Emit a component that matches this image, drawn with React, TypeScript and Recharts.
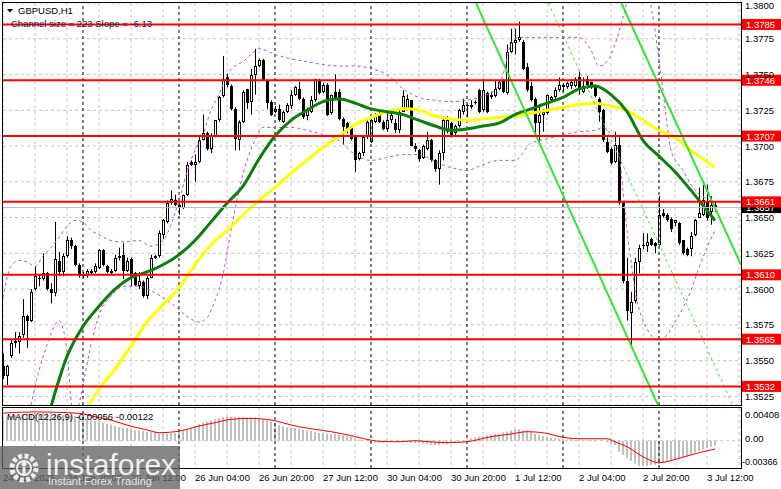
import React from 'react';
import { ComposedChart, Bar, Line, XAxis, YAxis, ReferenceLine, CartesianGrid } from 'recharts';

const FONT = '"Liberation Sans", Arial, sans-serif';

// one bar per hour, bar 0 = 24 Jun 04:00
const opens = [
  1.3546, 1.3539, 1.3553, 1.3562, 1.3563, 1.3568, 1.3581, 1.3578, 1.3600, 1.3608,
  1.3607, 1.3611, 1.3600, 1.3597, 1.3620, 1.3612, 1.3623, 1.3634, 1.3630, 1.3617,
  1.3610, 1.3609, 1.3611, 1.3612, 1.3615, 1.3627, 1.3616, 1.3613, 1.3613, 1.3622,
  1.3624, 1.3613, 1.3621, 1.3611, 1.3602, 1.3605, 1.3595, 1.3608, 1.3622, 1.3623,
  1.3638, 1.3647, 1.3660, 1.3662, 1.3659, 1.3657, 1.3666, 1.3689, 1.3687, 1.3689,
  1.3704, 1.3709, 1.3698, 1.3707, 1.3718, 1.3735, 1.3748, 1.3742, 1.3726, 1.3704,
  1.3717, 1.3740, 1.3731, 1.3750, 1.3756, 1.3760, 1.3746, 1.3731, 1.3724, 1.3726,
  1.3717, 1.3724, 1.3728, 1.3736, 1.3740, 1.3733, 1.3721, 1.3724, 1.3732, 1.3746,
  1.3738, 1.3743, 1.3723, 1.3738, 1.3738, 1.3719, 1.3716, 1.3713, 1.3706, 1.3691,
  1.3695, 1.3706, 1.3703, 1.3717, 1.3723, 1.3717, 1.3712, 1.3718, 1.3716, 1.3711,
  1.3724, 1.3726, 1.3732, 1.3700, 1.3697, 1.3692, 1.3698, 1.3704, 1.3690, 1.3684,
  1.3695, 1.3711, 1.3716, 1.3709, 1.3714, 1.3724, 1.3728, 1.3727, 1.3730, 1.3739,
  1.3725, 1.3737, 1.3734, 1.3735, 1.3740, 1.3746, 1.3737, 1.3766, 1.3772, 1.3774,
  1.3773, 1.3755, 1.3742, 1.3733, 1.3716, 1.3722, 1.3723, 1.3732, 1.3734, 1.3739,
  1.3741, 1.3741, 1.3742, 1.3742, 1.3748, 1.3738, 1.3747, 1.3745, 1.3743, 1.3733,
  1.3725, 1.3703, 1.3698, 1.3689, 1.3701, 1.3660, 1.3606, 1.3583, 1.3592, 1.3619,
  1.3630, 1.3630, 1.3635, 1.3632, 1.3631, 1.3653, 1.3652, 1.3649, 1.3646, 1.3646,
  1.3634, 1.3628, 1.3628, 1.3638, 1.3650, 1.3652, 1.3661, 1.3654, 1.3659,
];
const highs = [
  1.3555, 1.3547, 1.3565, 1.3570, 1.3570, 1.3593, 1.3582, 1.3600, 1.3616, 1.3610,
  1.3625, 1.3612, 1.3604, 1.3647, 1.3626, 1.3625, 1.3637, 1.3636, 1.3631, 1.3618,
  1.3612, 1.3614, 1.3614, 1.3618, 1.3628, 1.3628, 1.3617, 1.3614, 1.3624, 1.3629,
  1.3632, 1.3622, 1.3622, 1.3612, 1.3612, 1.3606, 1.3609, 1.3624, 1.3624, 1.3641,
  1.3649, 1.3662, 1.3669, 1.3666, 1.3660, 1.3666, 1.3689, 1.3690, 1.3694, 1.3707,
  1.3722, 1.3710, 1.3709, 1.3718, 1.3735, 1.3763, 1.3751, 1.3743, 1.3727, 1.3718,
  1.3739, 1.3740, 1.3754, 1.3768, 1.3761, 1.3761, 1.3746, 1.3732, 1.3728, 1.3729,
  1.3725, 1.3730, 1.3739, 1.3742, 1.3745, 1.3734, 1.3727, 1.3735, 1.3747, 1.3747,
  1.3744, 1.3744, 1.3736, 1.3750, 1.3740, 1.3720, 1.3717, 1.3714, 1.3708, 1.3696,
  1.3707, 1.3718, 1.3719, 1.3723, 1.3724, 1.3718, 1.3724, 1.3723, 1.3719, 1.3725,
  1.3739, 1.3736, 1.3732, 1.3702, 1.3698, 1.3701, 1.3710, 1.3705, 1.3691, 1.3697,
  1.3720, 1.3721, 1.3717, 1.3715, 1.3726, 1.3733, 1.3729, 1.3732, 1.3732, 1.3740,
  1.3747, 1.3738, 1.3738, 1.3746, 1.3746, 1.3747, 1.3771, 1.3782, 1.3782, 1.3787,
  1.3774, 1.3758, 1.3745, 1.3734, 1.3729, 1.3726, 1.3736, 1.3735, 1.3741, 1.3748,
  1.3744, 1.3745, 1.3747, 1.3748, 1.3752, 1.3748, 1.3749, 1.3745, 1.3743, 1.3734,
  1.3726, 1.3706, 1.3699, 1.3710, 1.3707, 1.3661, 1.3622, 1.3598, 1.3622, 1.3631,
  1.3639, 1.3639, 1.3636, 1.3633, 1.3665, 1.3656, 1.3653, 1.3650, 1.3648, 1.3647,
  1.3634, 1.3629, 1.3640, 1.3649, 1.3671, 1.3673, 1.3673, 1.3665, 1.3661,
];
const lows = [
  1.3537, 1.3533, 1.3552, 1.3559, 1.3555, 1.3566, 1.3559, 1.3577, 1.3599, 1.3602,
  1.3606, 1.3599, 1.3590, 1.3595, 1.3609, 1.3609, 1.3622, 1.3628, 1.3616, 1.3608,
  1.3608, 1.3608, 1.3610, 1.3611, 1.3614, 1.3616, 1.3611, 1.3610, 1.3612, 1.3620,
  1.3607, 1.3612, 1.3602, 1.3602, 1.3600, 1.3594, 1.3593, 1.3608, 1.3621, 1.3622,
  1.3635, 1.3646, 1.3659, 1.3658, 1.3652, 1.3656, 1.3665, 1.3686, 1.3675, 1.3688,
  1.3704, 1.3697, 1.3695, 1.3706, 1.3717, 1.3734, 1.3741, 1.3725, 1.3697, 1.3697,
  1.3716, 1.3726, 1.3722, 1.3736, 1.3755, 1.3746, 1.3726, 1.3721, 1.3723, 1.3717,
  1.3716, 1.3723, 1.3726, 1.3735, 1.3732, 1.3719, 1.3718, 1.3723, 1.3731, 1.3736,
  1.3737, 1.3721, 1.3722, 1.3732, 1.3718, 1.3701, 1.3709, 1.3704, 1.3682, 1.3690,
  1.3693, 1.3705, 1.3702, 1.3716, 1.3716, 1.3711, 1.3710, 1.3716, 1.3709, 1.3709,
  1.3724, 1.3725, 1.3700, 1.3696, 1.3689, 1.3691, 1.3697, 1.3689, 1.3682, 1.3673,
  1.3690, 1.3709, 1.3706, 1.3707, 1.3713, 1.3722, 1.3720, 1.3726, 1.3729, 1.3723,
  1.3724, 1.3723, 1.3733, 1.3734, 1.3739, 1.3737, 1.3736, 1.3765, 1.3764, 1.3773,
  1.3753, 1.3738, 1.3731, 1.3707, 1.3702, 1.3710, 1.3722, 1.3731, 1.3733, 1.3738,
  1.3738, 1.3740, 1.3740, 1.3741, 1.3736, 1.3737, 1.3740, 1.3740, 1.3734, 1.3717,
  1.3703, 1.3695, 1.3687, 1.3688, 1.3659, 1.3604, 1.3578, 1.3559, 1.3590, 1.3611,
  1.3628, 1.3626, 1.3630, 1.3625, 1.3630, 1.3650, 1.3647, 1.3640, 1.3644, 1.3631,
  1.3624, 1.3623, 1.3623, 1.3637, 1.3650, 1.3651, 1.3648, 1.3645, 1.3654,
];
const closes = [
  1.3539, 1.3546, 1.3562, 1.3564, 1.3567, 1.3581, 1.3578, 1.3598, 1.3609, 1.3607,
  1.3611, 1.3600, 1.3597, 1.3621, 1.3612, 1.3623, 1.3634, 1.3630, 1.3617, 1.3609,
  1.3609, 1.3613, 1.3613, 1.3616, 1.3627, 1.3617, 1.3612, 1.3611, 1.3622, 1.3623,
  1.3613, 1.3620, 1.3609, 1.3603, 1.3606, 1.3595, 1.3608, 1.3622, 1.3623, 1.3639,
  1.3648, 1.3660, 1.3663, 1.3659, 1.3657, 1.3666, 1.3687, 1.3687, 1.3689, 1.3704,
  1.3709, 1.3698, 1.3708, 1.3718, 1.3734, 1.3747, 1.3743, 1.3726, 1.3705, 1.3717,
  1.3738, 1.3730, 1.3750, 1.3756, 1.3760, 1.3746, 1.3730, 1.3722, 1.3726, 1.3718,
  1.3724, 1.3729, 1.3736, 1.3741, 1.3733, 1.3720, 1.3725, 1.3732, 1.3747, 1.3737,
  1.3743, 1.3722, 1.3736, 1.3733, 1.3719, 1.3713, 1.3712, 1.3705, 1.3690, 1.3695,
  1.3706, 1.3717, 1.3718, 1.3722, 1.3717, 1.3712, 1.3718, 1.3722, 1.3711, 1.3724,
  1.3735, 1.3733, 1.3700, 1.3698, 1.3691, 1.3700, 1.3704, 1.3690, 1.3684, 1.3695,
  1.3718, 1.3718, 1.3708, 1.3714, 1.3725, 1.3729, 1.3729, 1.3729, 1.3731, 1.3724,
  1.3739, 1.3724, 1.3736, 1.3740, 1.3745, 1.3738, 1.3766, 1.3773, 1.3774, 1.3776,
  1.3754, 1.3739, 1.3732, 1.3716, 1.3722, 1.3724, 1.3736, 1.3734, 1.3739, 1.3743,
  1.3743, 1.3744, 1.3745, 1.3747, 1.3739, 1.3742, 1.3741, 1.3741, 1.3735, 1.3724,
  1.3704, 1.3696, 1.3688, 1.3701, 1.3660, 1.3606, 1.3585, 1.3591, 1.3619, 1.3629,
  1.3631, 1.3633, 1.3631, 1.3630, 1.3652, 1.3651, 1.3648, 1.3642, 1.3648, 1.3632,
  1.3625, 1.3624, 1.3637, 1.3648, 1.3653, 1.3662, 1.3650, 1.3659, 1.3657,
];

// indicator readings [bar, value]
const maGreen = [
  [12, 1.3518], [16, 1.3553], [20, 1.3574], [24, 1.3588], [28, 1.3600], [32, 1.3608],
  [36, 1.3612], [40, 1.3617], [44, 1.3624], [48, 1.3634], [52, 1.3647], [56, 1.3660],
  [60, 1.3672], [64, 1.3691], [68, 1.3707], [72, 1.3718], [76, 1.3725], [80, 1.3731],
  [84, 1.3733], [88, 1.3730], [92, 1.3726], [96, 1.3724], [100, 1.3722], [104, 1.3718],
  [108, 1.3714], [112, 1.3711], [116, 1.3712], [120, 1.3714], [124, 1.3716], [128, 1.3722],
  [132, 1.3726], [136, 1.3730], [140, 1.3734], [144, 1.3740], [148, 1.3742], [152, 1.3736],
  [156, 1.3724], [160, 1.3704], [164, 1.3693], [168, 1.3682], [172, 1.3669], [176, 1.3655],
  [178, 1.3648],
];
const maYellow = [
  [20, 1.3512], [24, 1.3530], [28, 1.3544], [32, 1.3560], [36, 1.3577], [40, 1.3589],
  [44, 1.3601], [48, 1.3617], [52, 1.3631], [56, 1.3641], [60, 1.3652], [64, 1.3662],
  [68, 1.3671], [72, 1.3681], [76, 1.3690], [80, 1.3699], [84, 1.3707], [88, 1.3715],
  [92, 1.3720], [96, 1.3724], [100, 1.3726], [104, 1.3725], [108, 1.3721], [112, 1.3719],
  [116, 1.3718], [120, 1.3719], [124, 1.3720], [128, 1.3721], [132, 1.3723], [136, 1.3725],
  [140, 1.3727], [144, 1.3729], [148, 1.3730], [152, 1.3728], [156, 1.3725], [160, 1.3718],
  [164, 1.3711], [168, 1.3706], [172, 1.3697], [176, 1.3689], [178, 1.3685],
];
const bandUpper = [
  [0, 1.3594], [2, 1.3616], [4, 1.3620], [6, 1.3619], [8, 1.3616], [10, 1.3623], [12, 1.3629],
  [14, 1.3636], [16, 1.3644], [18, 1.3648], [20, 1.3647], [22, 1.3641], [24, 1.3638],
  [27, 1.3634], [30, 1.3633], [34, 1.3634], [37, 1.3630], [40, 1.3634], [42, 1.3645],
  [44, 1.3662], [46, 1.3682], [48, 1.3697], [50, 1.3708], [52, 1.3725], [54, 1.3736],
  [56, 1.3750], [58, 1.3756], [60, 1.3759], [62, 1.3764], [64, 1.3768], [68, 1.3764],
  [72, 1.3761], [76, 1.3759], [80, 1.3757], [84, 1.3756], [88, 1.3756], [92, 1.3754],
  [96, 1.3750], [100, 1.3740], [104, 1.3734], [108, 1.3732], [112, 1.3731], [116, 1.3732],
  [120, 1.3735], [123, 1.3739], [125, 1.3750], [127, 1.3771], [129, 1.3776], [132, 1.3776],
  [136, 1.3776], [140, 1.3776], [144, 1.3776], [147, 1.3767], [149, 1.3756], [151, 1.3759],
  [153, 1.3771], [155, 1.3790], [157, 1.3809], [160, 1.3813], [163, 1.3781], [164, 1.3760],
  [165, 1.3739], [166, 1.3715], [167, 1.3697], [170, 1.3683], [173, 1.3669], [176, 1.3663],
  [178, 1.3660],
];
const bandLower = [
  [7, 1.3519], [9, 1.3543], [11, 1.3561], [13, 1.3575], [14, 1.3578], [16, 1.3557],
  [17, 1.3523], [18, 1.3505], [19, 1.3519], [20, 1.3533], [22, 1.3561], [24, 1.3582],
  [27, 1.3595], [30, 1.3602], [34, 1.3602], [37, 1.3599], [40, 1.3594], [43, 1.3588],
  [46, 1.3581], [49, 1.3577], [51, 1.3580], [53, 1.3592], [55, 1.3610], [57, 1.3641],
  [59, 1.3669], [61, 1.3690], [63, 1.3704], [65, 1.3713], [68, 1.3713], [72, 1.3713],
  [76, 1.3711], [80, 1.3708], [84, 1.3704], [88, 1.3694], [92, 1.3690], [96, 1.3692],
  [100, 1.3694], [104, 1.3694], [108, 1.3689], [112, 1.3685], [116, 1.3683], [120, 1.3687],
  [124, 1.3690], [128, 1.3690], [132, 1.3702], [136, 1.3705], [140, 1.3708], [144, 1.3710],
  [148, 1.3711], [150, 1.3713], [152, 1.3708], [154, 1.3694], [155, 1.3669], [156, 1.3641],
  [157, 1.3620], [158, 1.3599], [160, 1.3578], [162, 1.3568], [164, 1.3564], [166, 1.3568],
  [168, 1.3577], [170, 1.3587], [172, 1.3599], [174, 1.3615], [176, 1.3629], [178, 1.3641],
];

// regression channel anchors (bar, price)
const channelSolid = [
  { x1: 118.25, y1: 1.38, x2: 163.75, y2: 1.3519 },
  { x1: 154.6, y1: 1.38, x2: 184.5, y2: 1.3617 },
];
const channelMid = { x1: 136.35, y1: 1.38, x2: 182.45, y2: 1.3519 };

const levels = [1.3785, 1.3746, 1.3707, 1.3661, 1.361, 1.3565, 1.3532];
const priceTicks = [1.3525, 1.355, 1.3575, 1.36, 1.3625, 1.365, 1.3675, 1.37, 1.3725, 1.375, 1.3775, 1.38];
const gridBars = [0, 8, 16, 24, 32, 40, 48, 56, 64, 72, 80, 88, 96, 104, 112, 120, 128, 136, 144, 152, 160, 168, 176, 184];
const dayBreaks = [20, 44, 68, 92, 116, 140, 164];
const timeTicks = [0, 16, 32, 48, 64, 80, 96, 112, 128, 144, 160, 176];
const timeLabels = ['24 Jun 2025', '24 Jun 20:00', '25 Jun 12:00', '26 Jun 04:00', '26 Jun 20:00', '27 Jun 12:00',
  '30 Jun 04:00', '30 Jun 20:00', '1 Jul 12:00', '2 Jul 04:00', '2 Jul 20:00', '3 Jul 12:00'];

const macdHist = [
  0.0039, 0.0040, 0.0041, 0.0042, 0.0043, 0.0044, 0.0045, 0.0045, 0.0046, 0.0046,
  0.0047, 0.0046, 0.0046, 0.0045, 0.0044, 0.0043, 0.0043, 0.0042, 0.0041, 0.0041,
  0.0039, 0.0037, 0.0035, 0.0033, 0.0032, 0.0030, 0.0028, 0.0027, 0.0025, 0.0023,
  0.0022, 0.0021, 0.0019, 0.0018, 0.0017, 0.0016, 0.0015, 0.0014, 0.0013, 0.0012,
  0.0012, 0.0012, 0.0013, 0.0013, 0.0015, 0.0017, 0.0019, 0.0022, 0.0025, 0.0028,
  0.0030, 0.0032, 0.0034, 0.0036, 0.0038, 0.0039, 0.0040, 0.0040, 0.0040, 0.0040,
  0.0040, 0.0039, 0.0039, 0.0039, 0.0038, 0.0036, 0.0034, 0.0031, 0.0029, 0.0026,
  0.0024, 0.0022, 0.0021, 0.0021, 0.0019, 0.0018, 0.0017, 0.0016, 0.0015, 0.0013,
  0.0012, 0.0012, 0.0011, 0.0011, 0.0010, 0.0009, 0.0008, 0.0006, 0.0004, 0.0002,
  0.0001, -0.0001, -0.0002, -0.0003, -0.0003, -0.0003, -0.0002, -0.0002, -0.0002, -0.0002,
  -0.0002, -0.0003, -0.0004, -0.0004, -0.0004, -0.0005, -0.0006, -0.0007, -0.0007, -0.0007,
  -0.0006, -0.0006, -0.0004, -0.0003, -0.0002, 0.0000, 0.0002, 0.0004, 0.0005, 0.0007,
  0.0008, 0.0009, 0.0010, 0.0011, 0.0012, 0.0014, 0.0015, 0.0017, 0.0019, 0.0019,
  0.0018, 0.0017, 0.0014, 0.0011, 0.0009, 0.0008, 0.0007, 0.0005, 0.0004, 0.0003,
  0.0003, 0.0002, 0.0002, 0.0001, 0.0001, 0.0001, 0.0001, 0.0001, 0.0001, 0.0000,
  -0.0001, -0.0002, -0.0005, -0.0007, -0.0018, -0.0024, -0.0029, -0.0034, -0.0038, -0.0042,
  -0.0042, -0.0042, -0.0041, -0.0040, -0.0038, -0.0036, -0.0035, -0.0033, -0.0032, -0.0030,
  -0.0028, -0.0026, -0.0023, -0.0020, -0.0017, -0.0014, -0.0012, -0.0010, -0.0008,
];
const macdSignal = [
  [0, 0.0046], [8, 0.0048], [15, 0.0047], [19, 0.00456], [23, 0.0040], [27, 0.00344],
  [32, 0.0024], [36, 0.0018], [39, 0.00133], [43, 0.0015], [46, 0.0019], [49, 0.00244],
  [53, 0.0030], [57, 0.00356], [62, 0.00372], [65, 0.0036], [68, 0.00333], [71, 0.0028],
  [74, 0.00233], [78, 0.0019], [82, 0.0015], [86, 0.0010], [91, 0.00022], [95, -0.00015],
  [99, -0.00017], [103, 0.0], [107, -0.0002], [111, -0.00033], [116, -0.00017], [122, 0.00067],
  [127, 0.00111], [131, 0.0015], [136, 0.00122], [140, 0.00056], [144, 0.00033], [151, 0.00033],
  [153, -0.0002], [156, -0.001], [160, -0.00267], [164, -0.00367], [169, -0.00294],
  [174, -0.002], [178, -0.00139],
];
const macdTicks = [0.00408, 0, -0.00366];
const macdTickText = ['0.00408', '0.00', '-0.00366'];

const rows: any[] = opens.map((o, i) => ({
  i, o, h: highs[i], l: lows[i], c: closes[i], range: [lows[i], highs[i]], hist: macdHist[i],
}));
const put = (list: number[][], key: string) => list.forEach(([i, v]) => { rows[i][key] = v; });
put(maGreen, 'green');
put(maYellow, 'yellow');
put(bandUpper, 'up');
put(bandLower, 'dn');
put(macdSignal, 'sig');

const lastClose = closes[closes.length - 1];

const Candle = (props: any) => {
  const { x, y, width, height, payload } = props;
  if (x == null || !payload) return null;
  const { o, h, l, c } = payload;
  const cx = Math.round(x + width / 2);
  const span = h - l || 1e-9;
  const toY = (p: number) => y + ((h - p) / span) * height;
  const yTop = Math.round(toY(Math.max(o, c)));
  const yBot = Math.round(toY(Math.min(o, c)));
  const bull = c >= o;
  return (
    <g>
      <line x1={cx + 0.5} x2={cx + 0.5} y1={y} y2={y + height} stroke="#000" strokeWidth={1} />
      {bull && yBot - yTop >= 2 ? (
        <rect x={cx - 0.5} y={yTop + 0.5} width={2} height={yBot - yTop - 1} fill="#fff" stroke="#000" strokeWidth={1} />
      ) : (
        <rect x={cx - 1} y={yTop} width={3} height={Math.max(yBot - yTop, 1)} fill="#000" />
      )}
    </g>
  );
};

const Tag = ({ viewBox, text, bg }: any) => {
  if (!viewBox) return null;
  const x = viewBox.x + viewBox.width + 1;
  const y = viewBox.y;
  return (
    <g>
      <rect x={x} y={y - 5.5} width={40} height={11} fill={bg} />
      <text x={x + 4} y={y + 3.6} fontSize={9.5} fontFamily={FONT} fill="#fff">{text}</text>
    </g>
  );
};

// the top label sits a little lower so it stays inside the window
const PriceTick = (p: any) => {
  const v = Number(p.payload.value);
  const dy = v >= 1.38 ? 5.5 : 3.5;
  return (
    <text x={p.x} y={p.y + dy} fontSize={9.5} fontFamily={FONT} fill="#000" textAnchor="start">
      {v.toFixed(4)}
    </text>
  );
};

const TimeTick = (p: any) => {
  const k = timeTicks.indexOf(p.payload.value);
  if (k < 0) return <g />;
  return (
    <text x={p.x} y={p.y + 13} fontSize={9.5} fontFamily={FONT} fill="#000" textAnchor="start">{timeLabels[k]}</text>
  );
};

const MacdTick = (p: any) => {
  const k = macdTicks.indexOf(p.payload.value);
  const neg = macdTicks[k] < 0;
  return (
    <text x={neg ? p.x - 3 : p.x} y={neg ? p.y + 2.5 : p.y + 1.5} fontSize={neg ? 9 : 9.5} fontFamily={FONT} fill="#000" textAnchor="start">
      {macdTickText[k]}
    </text>
  );
};

const App = () => {
  return (
    <div style={{ position: 'absolute', left: 0, top: 0, width: 781, height: 489, background: '#fff', overflow: 'hidden' }}>
      <div style={{ position: 'absolute', left: 0, top: 0 }}>
        <ComposedChart width={781} height={406} data={rows} margin={{ top: 3, right: 0, bottom: 1, left: 3 }}>
          <CartesianGrid stroke="#c4c4c4" strokeDasharray="3 3" />
          <XAxis type="number" dataKey="i" domain={[0, 184.5]} ticks={gridBars} hide allowDataOverflow />
          <YAxis orientation="right" width={40} domain={[1.3519, 1.38]} ticks={priceTicks} interval={0}
            allowDataOverflow axisLine={false} tickLine={false} tickSize={3} tickMargin={1} tick={PriceTick} />
          {dayBreaks.map((d) => (
            <ReferenceLine key={'d' + d} x={d} stroke="#000" strokeDasharray="3 3" />
          ))}
          <Bar dataKey="range" barSize={4} shape={<Candle />} isAnimationActive={false} />
          <Line dataKey="up" stroke="#b84fd6" strokeDasharray="3 3" strokeWidth={1} dot={false} activeDot={false} connectNulls type="monotone" isAnimationActive={false} />
          <Line dataKey="dn" stroke="#b84fd6" strokeDasharray="3 3" strokeWidth={1} dot={false} activeDot={false} connectNulls type="monotone" isAnimationActive={false} />
          <Line dataKey="yellow" stroke="#ffff00" strokeWidth={3} dot={false} activeDot={false} connectNulls type="monotone" isAnimationActive={false} />
          <Line dataKey="green" stroke="#0a7f0a" strokeWidth={3} dot={false} activeDot={false} connectNulls type="monotone" isAnimationActive={false} />
          {channelSolid.map((s, k) => (
            <ReferenceLine key={'ch' + k} segment={[{ x: s.x1, y: s.y1 }, { x: s.x2, y: s.y2 }]} stroke="#33e633" strokeWidth={2} ifOverflow="hidden" />
          ))}
          <ReferenceLine segment={[{ x: channelMid.x1, y: channelMid.y1 }, { x: channelMid.x2, y: channelMid.y2 }]}
            stroke="#33e633" strokeWidth={1} strokeDasharray="3 3" ifOverflow="hidden" />
          <ReferenceLine y={lastClose} stroke="#bdbdbd" strokeWidth={1}
            label={(p: any) => <Tag viewBox={p.viewBox} text={lastClose.toFixed(4)} bg="#000" />} />
          {levels.map((v) => (
            <ReferenceLine key={'l' + v} y={v} stroke="#ff0000" strokeWidth={2}
              label={(p: any) => <Tag viewBox={p.viewBox} text={v.toFixed(4)} bg="#ff0000" />} />
          ))}
        </ComposedChart>
      </div>
      <div style={{ position: 'absolute', left: 0, top: 406 }}>
        <ComposedChart width={781} height={83} data={rows} margin={{ top: 2, right: 0, bottom: 0, left: 3 }}>
          <CartesianGrid stroke="#c4c4c4" strokeDasharray="3 3" horizontal={false} />
          <XAxis type="number" dataKey="i" domain={[0, 184.5]} ticks={gridBars} interval={0} height={21}
            allowDataOverflow axisLine={false} tickLine={false} tickSize={0} tickMargin={0} tick={TimeTick} />
          <YAxis orientation="right" width={40} domain={[-0.00455, 0.00545]} ticks={macdTicks} interval={0}
            allowDataOverflow axisLine={false} tickLine={false} tickSize={3} tickMargin={1} tick={MacdTick} />
          <ReferenceLine y={0} stroke="#c4c4c4" strokeDasharray="3 3" />
          {dayBreaks.map((d) => (
            <ReferenceLine key={'m' + d} x={d} stroke="#000" strokeDasharray="3 3" />
          ))}
          <Bar dataKey="hist" fill="#c0c0c0" barSize={2} isAnimationActive={false} />
          <Line dataKey="sig" stroke="#ff0000" strokeWidth={1} dot={false} activeDot={false} connectNulls type="monotone" isAnimationActive={false} />
        </ComposedChart>
      </div>
      <div style={{ position: 'absolute', left: 2, top: 2, width: 738, height: 402, border: '1px solid #000', pointerEvents: 'none' }} />
      <div style={{ position: 'absolute', left: 2, top: 407, width: 738, height: 60, border: '1px solid #000', pointerEvents: 'none' }} />
      <svg width={781} height={489} style={{ position: 'absolute', left: 0, top: 0, pointerEvents: 'none' }}>
        <path d="M7 9 L13 9 L10 12.5 Z" fill="#000" />
        <text x={18} y={14} fontSize={9.5} fontFamily={FONT} fill="#000">GBPUSD,H1</text>
        <text x={11} y={27} fontSize={9.5} fontFamily={FONT} fill="#14143c">Channel size = 223 Slope = -6.13</text>
        <text x={7} y={419.5} fontSize={9.5} fontFamily={FONT} fill="#000">MACD(12,26,9) -0.00056 -0.00122</text>
        <rect x={0} y={446} width={180} height={43} fill="rgba(100,100,100,0.78)" />
        <circle cx={24} cy={468} r={12} fill="none" stroke="rgba(255,255,255,0.85)" strokeWidth={5} strokeDasharray="4 2.3" />
        <circle cx={24} cy={468} r={7} fill="none" stroke="rgba(255,255,255,0.85)" strokeWidth={2} />
        <circle cx={24} cy={464} r={2.5} fill="rgba(255,255,255,0.85)" />
        <rect x={22.5} y={467} width={3} height={8} fill="rgba(255,255,255,0.85)" />
        <text x={46} y={475} fontSize={30} fontFamily={FONT} fill="rgba(255,255,255,0.88)">instaforex</text>
        <text x={48} y={485} fontSize={11} fontFamily={FONT} fill="rgba(255,255,255,0.8)">Instant Forex Trading</text>
      </svg>
    </div>
  );
};

export default App;
